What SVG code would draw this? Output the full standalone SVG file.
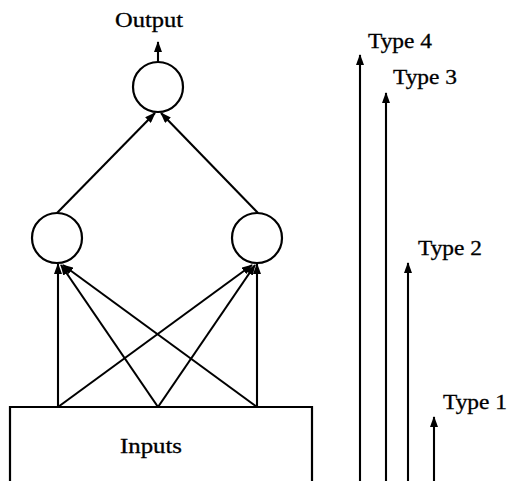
<svg xmlns="http://www.w3.org/2000/svg" width="509" height="481" viewBox="0 0 509 481">
<style>
.bg{fill:#fff}
.node{fill:none;stroke:#000;stroke-width:2.2}
.edge{fill:none;stroke:#000;stroke-width:2.1;marker-end:url(#ah)}
.lbl{font-family:"Liberation Serif","DejaVu Serif",serif;font-size:20px;fill:#000;stroke:#000;stroke-width:0.3}
</style>
<defs>
<marker id="ah" markerUnits="userSpaceOnUse" markerWidth="11" markerHeight="8" refX="10" refY="4" orient="auto">
<path d="M0,0 L11,4 L0,8 z" fill="#000"/>
</marker>
</defs>
<rect class="bg" x="0" y="0" width="509" height="481"/>
<g id="output-label"><text class="lbl" x="115" y="27" textLength="68" lengthAdjust="spacingAndGlyphs">Output</text></g>
<g id="output-node"><circle class="node" cx="158" cy="87" r="25"/></g>
<g id="hidden-left"><circle class="node" cx="57" cy="238" r="25"/></g>
<g id="hidden-right"><circle class="node" cx="257" cy="238" r="25"/></g>
<g id="inputs"><path class="node" d="M10,483 L10,407 L312,407 L312,483"/><text class="lbl" x="120" y="453" textLength="62" lengthAdjust="spacingAndGlyphs">Inputs</text></g>
<g id="type4"><text class="lbl" x="368" y="48" textLength="64" lengthAdjust="spacingAndGlyphs">Type 4</text></g>
<g id="type3"><text class="lbl" x="393" y="84" textLength="64" lengthAdjust="spacingAndGlyphs">Type 3</text></g>
<g id="type2"><text class="lbl" x="418" y="255" textLength="64" lengthAdjust="spacingAndGlyphs">Type 2</text></g>
<g id="type1"><text class="lbl" x="443" y="409" textLength="64" lengthAdjust="spacingAndGlyphs">Type 1</text></g>
<g id="connectors">
<line class="edge" x1="158" y1="62" x2="158" y2="42"/>
<line class="edge" x1="57" y1="213" x2="155" y2="113"/>
<line class="edge" x1="258" y1="213" x2="161" y2="113"/>
<line class="edge" x1="58" y1="407" x2="58" y2="264"/>
<line class="edge" x1="158" y1="407" x2="61" y2="265"/>
<line class="edge" x1="257" y1="407" x2="63" y2="265"/>
<line class="edge" x1="58" y1="407" x2="252" y2="265"/>
<line class="edge" x1="158" y1="407" x2="255" y2="265"/>
<line class="edge" x1="257" y1="407" x2="257" y2="264"/>
<line class="edge" x1="360" y1="483" x2="360" y2="55"/>
<line class="edge" x1="386" y1="483" x2="386" y2="93"/>
<line class="edge" x1="408" y1="483" x2="408" y2="263"/>
<line class="edge" x1="434" y1="483" x2="434" y2="417"/>
</g>
</svg>
